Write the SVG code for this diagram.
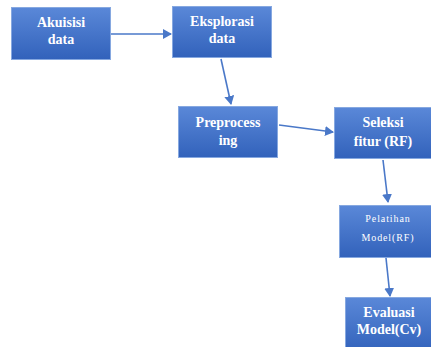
<svg xmlns="http://www.w3.org/2000/svg" width="431" height="347" viewBox="0 0 431 347">
<defs>
<linearGradient id="g" x1="0" y1="0" x2="0" y2="1">
<stop offset="0" stop-color="#5a88d8"/>
<stop offset="1" stop-color="#3262bb"/>
</linearGradient>
<marker id="ah" markerWidth="10" markerHeight="10" refX="8" refY="5" orient="auto" markerUnits="userSpaceOnUse">
<path d="M0,0 L9,5 L0,10 Z" fill="#4a78c8"/>
</marker>
<style>
.box{fill:url(#g);stroke:#86a8e0;stroke-width:1}
.t{font-family:"Liberation Serif",serif;font-size:14px;font-weight:bold;fill:#fff;text-anchor:middle}
.s{font-size:10px;font-weight:normal;letter-spacing:0.9px}
.c{stroke:#4a78c8;stroke-width:1.6;fill:none;marker-end:url(#ah)}
</style>
</defs>
<rect width="431" height="347" fill="#fff"/>
<g id="connectors">
<line class="c" x1="111" y1="34" x2="171" y2="34"/>
<line class="c" x1="221" y1="59" x2="231" y2="104"/>
<line class="c" x1="279" y1="125" x2="333" y2="132"/>
<line class="c" x1="383" y1="160" x2="388" y2="202"/>
<line class="c" x1="386" y1="258" x2="390" y2="296"/>
</g>
<g id="n1"><rect class="box" x="11.5" y="7.5" width="99" height="52"/><text class="t" x="61" y="27">Akuisisi</text><text class="t" x="61" y="44">data</text></g>
<g id="n2"><rect class="box" x="172.5" y="6.5" width="99" height="51"/><text class="t" x="222" y="26">Eksplorasi</text><text class="t" x="222" y="43">data</text></g>
<g id="n3"><rect class="box" x="178.5" y="106.5" width="99" height="51"/><text class="t" x="228" y="127">Preprocess</text><text class="t" x="228" y="145">ing</text></g>
<g id="n4"><rect class="box" x="334.5" y="107.5" width="98" height="51"/><text class="t" x="383" y="127">Seleksi</text><text class="t" x="383" y="146">fitur (RF)</text></g>
<g id="n5"><rect class="box" x="339.5" y="205.5" width="93" height="52"/><text class="t s" x="388" y="222">Pelatihan</text><text class="t s" x="388" y="241">Model(RF)</text></g>
<g id="n6"><rect class="box" x="345.5" y="297.5" width="90" height="55"/><text class="t" x="389" y="317">Evaluasi</text><text class="t" x="389" y="334">Model(Cv)</text></g>
</svg>
